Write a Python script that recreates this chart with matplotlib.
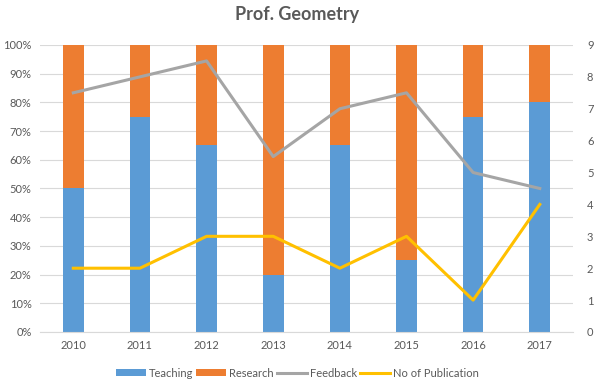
import numpy as np
import matplotlib.pyplot as plt
from matplotlib.ticker import PercentFormatter

plt.rcParams['font.family'] = ['Lato', 'DejaVu Sans']

years = ["2010", "2011", "2012", "2013", "2014", "2015", "2016", "2017"]
teaching = [50, 75, 65, 20, 65, 25, 75, 80]
research = [50, 25, 35, 80, 35, 75, 25, 20]
feedback = [7.5, 8, 8.5, 5.5, 7, 7.5, 5, 4.5]
publications = [2, 2, 3, 3, 2, 3, 1, 4]

grey_txt = "#595959"
x = np.arange(len(years))

fig = plt.figure(figsize=(5.95, 3.85), dpi=100)
ax = fig.add_axes([0.0672, 0.1377, 0.896, 0.7455])

ax.bar(x, teaching, width=0.31, color="#5B9BD5", label="Teaching", zorder=2)
ax.bar(x, research, width=0.31, bottom=teaching, color="#ED7D31", label="Research", zorder=2)
ax.set_ylim(0, 100)
ax.set_xlim(-0.5, len(years) - 0.5)
ax.set_yticks(np.arange(0, 101, 10))
ax.yaxis.set_major_formatter(PercentFormatter(decimals=0))
ax.set_xticks(x)
ax.set_xticklabels(years)
ax.grid(axis="y", color="#D9D9D9", linewidth=0.8, zorder=0)
ax.set_axisbelow(True)
for s in ["top", "left", "right"]:
    ax.spines[s].set_visible(False)
ax.spines["bottom"].set_color("#D9D9D9")
ax.tick_params(length=0, colors=grey_txt, labelsize=8, pad=6)

ax2 = ax.twinx()
ax2.plot(x, feedback, color="#A5A5A5", linewidth=2.2, label="Feedback")
ax2.plot(x, publications, color="#FFC000", linewidth=2.2, label="No of Publication")
ax2.set_ylim(0, 9)
ax2.set_yticks(range(0, 10))
for s in ["top", "left", "right", "bottom"]:
    ax2.spines[s].set_visible(False)
ax2.tick_params(length=0, colors=grey_txt, labelsize=8, pad=10)

fig.suptitle("Prof. Geometry", x=0.5, y=0.985, fontsize=13, fontweight="bold", color=grey_txt)

h1, l1 = ax.get_legend_handles_labels()
h2, l2 = ax2.get_legend_handles_labels()
fig.legend(h1 + h2, l1 + l2, loc="lower center", bbox_to_anchor=(0.5, -0.01), ncol=4,
           frameon=False, fontsize=8, handlelength=2.7, handleheight=0.6,
           columnspacing=0.3, handletextpad=0.25, labelcolor=grey_txt)

fig.savefig("out.png", dpi=100)
